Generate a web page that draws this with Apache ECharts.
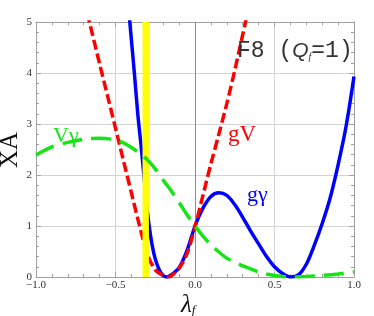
<!DOCTYPE html>
<html><head><meta charset="utf-8">
<script src="https://cdn.jsdelivr.net/npm/echarts@6/dist/echarts.min.js"></script>
<style>html,body{margin:0;padding:0;background:#fff}#c{width:374px;height:316px}</style>
</head><body><div id="c"></div>
<script>
// x-axis and y-axis ticks
const xTickValues = [-1.0, -0.5, 0.0, 0.5, 1.0];
const yTickValues = [0, 1, 2, 3, 4, 5];

// gV (red dashed)
const gVx = [-0.70, -0.65, -0.60, -0.55, -0.50, -0.45, -0.40, -0.35, -0.30, -0.25, -0.20, -0.17, -0.15, -0.10, -0.05, 0.00, 0.05, 0.10, 0.15, 0.20, 0.25, 0.30, 0.35];
const gVy = [5.45, 4.82, 4.18, 3.55, 2.92, 2.28, 1.65, 1.02, 0.45, 0.14, 0.03, 0.00, 0.02, 0.17, 0.46, 0.98, 1.60, 2.22, 2.80, 3.40, 4.05, 4.75, 5.45];

// g gamma (blue solid)
const gGx = [-0.42, -0.41, -0.40, -0.38, -0.36, -0.34, -0.32, -0.30, -0.28, -0.26, -0.24, -0.22, -0.20, -0.18, -0.15, -0.10, -0.05, 0.00, 0.05, 0.10, 0.15, 0.20, 0.25, 0.30, 0.35, 0.40, 0.45, 0.50, 0.55, 0.60, 0.65, 0.70, 0.75, 0.80, 0.85, 0.90, 0.95, 1.00];
const gGy = [5.35, 5.00, 4.65, 3.95, 3.20, 2.60, 1.95, 1.30, 0.82, 0.48, 0.26, 0.11, 0.03, 0.00, 0.04, 0.18, 0.52, 1.00, 1.35, 1.58, 1.65, 1.60, 1.42, 1.17, 0.90, 0.65, 0.40, 0.20, 0.07, 0.00, 0.04, 0.25, 0.62, 1.05, 1.55, 2.20, 2.95, 3.93];

// V gamma (green dashed)
const vGx = [-1.00, -0.90, -0.80, -0.70, -0.60, -0.50, -0.45, -0.40, -0.35, -0.30, -0.25, -0.20, -0.15, -0.10, -0.05, 0.00, 0.05, 0.10, 0.15, 0.20, 0.25, 0.30, 0.35, 0.40, 0.45, 0.50, 0.55, 0.60, 0.70, 0.80, 0.90, 1.00];
const vGy = [2.39, 2.55, 2.64, 2.70, 2.72, 2.69, 2.63, 2.54, 2.43, 2.30, 2.12, 1.90, 1.69, 1.46, 1.22, 1.00, 0.80, 0.63, 0.49, 0.37, 0.29, 0.22, 0.16, 0.10, 0.06, 0.03, 0.01, 0.00, 0.01, 0.03, 0.06, 0.10];

// yellow band (lambda range)
const band = [-0.33, -0.29];

const pairs = (xs, ys) => xs.map((x, i) => [x, ys[i]]);
const fmtX = v => (v < 0 ? '\u2212' : '') + Math.abs(v).toFixed(1);

const frame = '#a0a0a0';
const axisCommon = {
  type: 'value',
  axisLine: { show: true, onZero: false, lineStyle: { color: frame, width: 1 } },
  axisTick: { show: true, inside: true, length: 5, lineStyle: { color: frame } },
  minorTick: { show: true, inside: true, splitNumber: 5, length: 3, lineStyle: { color: frame } },
};

const chart = echarts.init(document.getElementById('c'), null, { renderer: 'canvas' });
chart.setOption({
  animation: false,
  backgroundColor: '#ffffff',
  grid: { left: 36, right: 20, top: 22, bottom: 39, containLabel: false },
  xAxis: [
    Object.assign({}, axisCommon, {
      min: xTickValues[0], max: xTickValues[xTickValues.length - 1], interval: 0.5, position: 'bottom',
      splitLine: { show: true, lineStyle: { color: '#d4d4d4', width: 1 } },
      axisLabel: { formatter: fmtX, fontFamily: 'Liberation Serif', fontSize: 11, color: '#333', margin: 3 }
    }),
    Object.assign({}, axisCommon, {
      min: xTickValues[0], max: xTickValues[xTickValues.length - 1], interval: 0.5, position: 'top',
      splitLine: { show: false }, axisLabel: { show: false }
    })
  ],
  yAxis: [
    Object.assign({}, axisCommon, {
      min: yTickValues[0], max: yTickValues[yTickValues.length - 1], interval: 1, position: 'left',
      splitLine: { show: true, lineStyle: { color: '#d4d4d4', width: 1 } },
      axisLabel: { fontFamily: 'Liberation Serif', fontSize: 11, color: '#333', margin: 4 }
    }),
    Object.assign({}, axisCommon, {
      min: yTickValues[0], max: yTickValues[yTickValues.length - 1], interval: 1, position: 'right',
      splitLine: { show: false }, axisLabel: { show: false }
    })
  ],
  series: [
    {
      name: 'gγ', type: 'line', z: 2, data: pairs(gGx, gGy), smooth: 0.3, showSymbol: false, symbol: 'none',
      lineStyle: { color: '#0000ff', width: 3.5 },
      markLine: {
        z: 1, silent: true, symbol: 'none', label: { show: false },
        lineStyle: { color: '#8c8c8c', width: 1, type: 'solid' },
        data: [{ xAxis: xTickValues[2] }]
      }
    },
    {
      name: 'gV', type: 'line', z: 3, data: pairs(gVx, gVy), smooth: 0.3, showSymbol: false, symbol: 'none',
      lineStyle: { color: '#ff0000', width: 3.5, type: [10, 4], cap: 'butt' }
    },
    {
      name: 'band', type: 'custom', z: 4, data: [band], silent: true,
      renderItem: function (params, api) {
        const p0 = api.coord([api.value(0), yTickValues[yTickValues.length - 1]]);
        const p1 = api.coord([api.value(1), yTickValues[0]]);
        return { type: 'rect', shape: { x: p0[0], y: p0[1], width: p1[0] - p0[0], height: p1[1] - p0[1] }, style: { fill: '#ffff00' } };
      }
    },
    {
      name: 'Vγ', type: 'line', z: 5, data: pairs(vGx, vGy), smooth: 0.3, showSymbol: false, symbol: 'none',
      lineStyle: { color: '#14e614', width: 3.5, type: [20, 9], cap: 'butt' }
    }
  ],
  graphic: [
    { type: 'text', z: 10, style: { x: 53, y: 136, text: 'Vγ', font: '22px "Liberation Serif"', fill: '#14e614', textVerticalAlign: 'middle' } },
    { type: 'text', z: 10, style: { x: 228, y: 135, text: 'gV', font: '23px "Liberation Serif"', fill: '#ff0000', textVerticalAlign: 'middle' } },
    { type: 'text', z: 10, style: { x: 247, y: 195, text: 'gγ', font: '22px "Liberation Serif"', fill: '#0000ff', textVerticalAlign: 'middle' } },
    { type: 'text', z: 10, style: { x: 237, y: 51, textVerticalAlign: 'middle',
        text: '{a|F8 (}{q|Q}{s|f}{a|=1)}',
        rich: {
          a: { fontFamily: 'Liberation Mono', fontSize: 23, fill: '#333' },
          q: { fontFamily: 'Liberation Sans', fontStyle: 'italic', fontSize: 21, fill: '#333' },
          s: { fontFamily: 'Liberation Serif', fontStyle: 'italic', fontSize: 10, fill: '#333', verticalAlign: 'bottom' }
        } } },
    { type: 'text', z: 10, x: 10, y: 150, rotation: Math.PI / 2, style: { x: 0, y: 0, text: 'XA', font: '25px "Liberation Serif"', fill: '#111', textAlign: 'center', textVerticalAlign: 'middle' } },
    { type: 'text', z: 10, style: { x: 181, y: 305, textVerticalAlign: 'middle',
        text: '{l|λ}{s|f}',
        rich: {
          l: { fontFamily: 'Liberation Serif', fontStyle: 'italic', fontSize: 25, fill: '#111' },
          s: { fontFamily: 'Liberation Serif', fontStyle: 'italic', fontSize: 13, fill: '#111', verticalAlign: 'bottom' }
        } } }
  ]
});
</script>
</body></html>
